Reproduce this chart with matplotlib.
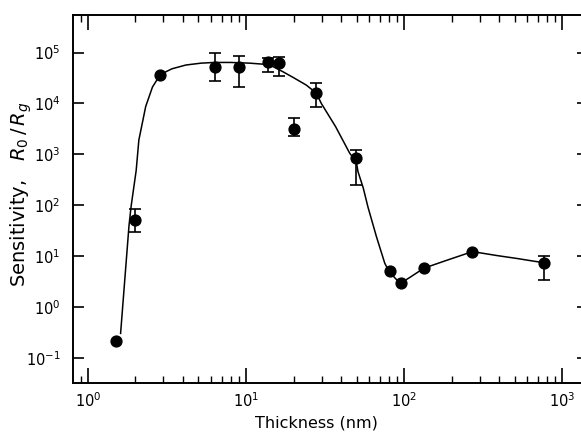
import numpy as np
import matplotlib
matplotlib.use("Agg")
import matplotlib.pyplot as plt
from matplotlib.ticker import LogLocator, NullFormatter, FixedLocator

plt.rcParams["axes.unicode_minus"] = False

# measured points: thickness (nm), sensitivity, error bar ends
thickness = [1.5, 2.0, 2.87, 6.36, 8.98, 13.7, 16.1, 20.0, 27.8, 49.8, 81, 94.7, 133, 270, 760]
sens = [0.216, 52, 3.7e4, 5.3e4, 5.2e4, 6.5e4, 6.2e4, 3.2e3, 1.6e4, 830, 5.0, 2.9, 5.75, 12.2, 7.4]
err_hi = [None, 85, None, 9.7e4, 8.6e4, 7.7e4, 8.1e4, 5.1e3, 2.5e4, 1.2e3, None, None, None, None, 10.2]
err_lo = [None, 29, None, 2.8e4, 2.15e4, 4.2e4, 3.4e4, 2.3e3, 8.7e3, 250, None, None, None, None, 3.3]

# guide curve
curve_x = [1.61, 1.82, 1.88, 2.02, 2.1, 2.32, 2.56, 2.87, 3.4, 4.17, 5.2, 6.3, 8.0, 10.5, 14.0,
           17.1, 20.0, 24.0, 27.8, 29.9, 36.8, 45.2, 49.8, 51, 55, 59, 66.7, 75.3, 80,
           88, 94.7, 110, 133, 185, 270, 385, 520, 660, 760]
curve_y = [0.30, 40, 99, 480, 1.9e3, 8.7e3, 2.1e4, 3.7e4, 4.8e4, 5.7e4, 6.2e4, 6.4e4, 6.4e4, 6.2e4, 5.8e4,
           4.2e4, 3.2e4, 2.3e4, 1.6e4, 1.0e4, 3.5e3, 1.05e3, 700, 455, 220, 91, 24, 7.2, 5.0,
           3.6, 2.9, 3.9, 5.75, 8.2, 12.2, 10.2, 8.9, 7.9, 7.4]

fig = plt.figure(figsize=(5.81, 4.33), dpi=100)
ax = fig.add_axes([0.1256, 0.1155, 0.8744, 0.85])

ax.plot(curve_x, curve_y, color="black", lw=1.1, zorder=2)

has_err = [i for i in range(len(thickness)) if err_hi[i] is not None]
ex = [thickness[i] for i in has_err]
ey = [sens[i] for i in has_err]
yerr = np.array([[sens[i] - err_lo[i] for i in has_err], [err_hi[i] - sens[i] for i in has_err]])
ax.errorbar(ex, ey, yerr=yerr, fmt="none", ecolor="black", elinewidth=1.2, capsize=4, capthick=1.2, zorder=3)
ax.plot(thickness, sens, "o", color="black", ms=7.8, zorder=4)

ax.set_xscale("log")
ax.set_yscale("log")
ax.set_xlim(0.805, 1310)
ax.set_ylim(0.0318, 5.5e5)

ax.xaxis.set_major_locator(LogLocator(base=10, numticks=10))
ax.xaxis.set_minor_locator(LogLocator(base=10, subs=np.arange(2, 10), numticks=20))
ax.xaxis.set_minor_formatter(NullFormatter())
yticks = [1e-1, 1, 1e1, 1e2, 1e3, 1e4, 1e5]
ax.yaxis.set_major_locator(FixedLocator(yticks))
ax.yaxis.set_minor_locator(FixedLocator([]))

ax.tick_params(axis="x", which="major", direction="in", length=11, width=1.2, top=True, labelsize=10.5, pad=6)
ax.tick_params(axis="x", which="minor", direction="in", length=5, width=1.0, top=True)
ax.tick_params(axis="y", which="major", direction="in", length=8, width=1.2, labelsize=10.5, pad=9)

# short ticks on the right edge only
sec = ax.secondary_yaxis("right")
sec.set_yscale("log")
sec.yaxis.set_major_locator(FixedLocator(yticks))
sec.yaxis.set_minor_locator(FixedLocator([]))
sec.tick_params(which="major", direction="in", length=3, width=1.2, labelright=False)
sec.spines["right"].set_visible(False)

for s in ["left", "bottom", "top"]:
    ax.spines[s].set_linewidth(1.4)
ax.spines["right"].set_visible(False)

ax.set_xlabel("Thickness (nm)", fontsize=11.5)
ax.xaxis.set_label_coords((316 - 73) / 508, -0.088)
ax.set_ylabel(r"Sensitivity,   $R_0\,/\,R_g$", fontsize=14)
ax.yaxis.set_label_coords(-0.076, 0.514)

fig.savefig("out.png", dpi=100)
